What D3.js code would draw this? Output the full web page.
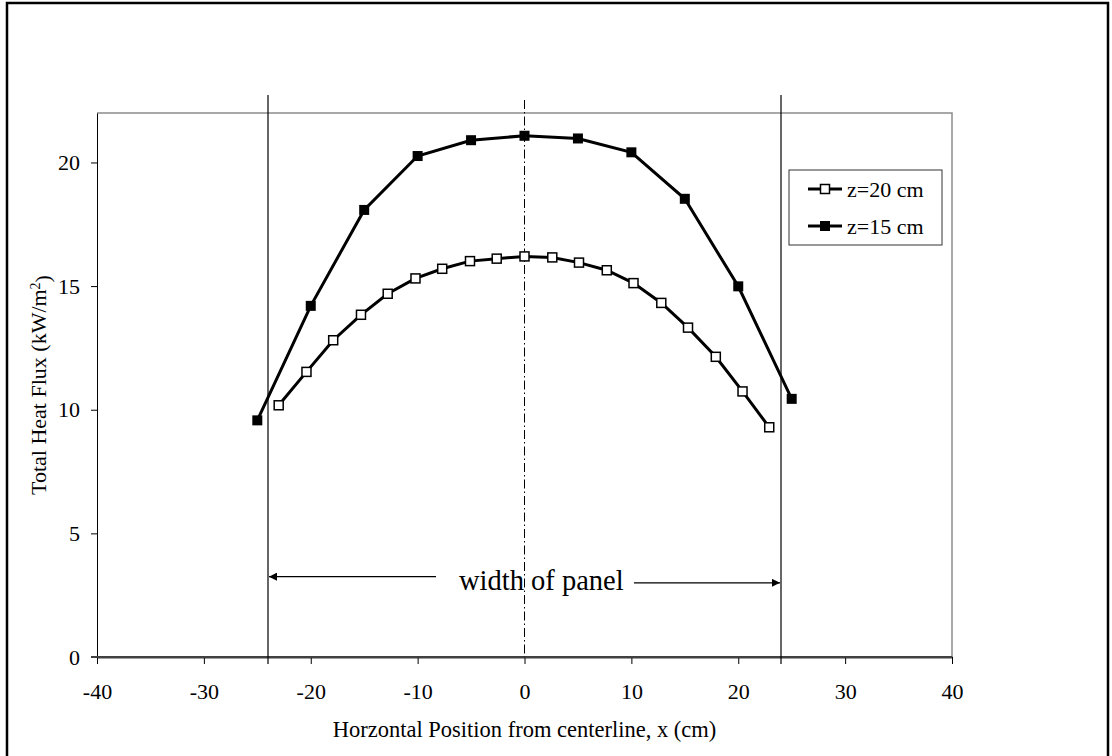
<!DOCTYPE html>
<html>
<head>
<meta charset="utf-8">
<script src="https://cdn.jsdelivr.net/npm/d3@7"></script>
<style>
  html, body { margin: 0; padding: 0; background: #fff; }
  svg { display: block; }
  text { font-family: "Liberation Serif", "Times New Roman", serif; fill: #000; }
</style>
</head>
<body>
<svg id="chart" width="1112" height="756"></svg>
<script>
// ---- data ----
const xTicks = [-40, -30, -20, -10, 0, 10, 20, 30, 40];
const yTicks = [0, 5, 10, 15, 20];
const seriesNames = ["z=20 cm", "z=15 cm"];
const z20x = [-23, -20.4, -17.9, -15.3, -12.8, -10.2, -7.7, -5.1, -2.6, 0, 2.6, 5.1, 7.7, 10.2, 12.8, 15.3, 17.9, 20.4, 22.9];
const z20y = [10.18, 11.53, 12.81, 13.84, 14.69, 15.31, 15.70, 16.01, 16.11, 16.20, 16.16, 15.95, 15.64, 15.12, 14.32, 13.32, 12.14, 10.74, 9.29];
const z15x = [-25, -20, -15, -10, -5, 0, 5, 10, 15, 20, 25];
const z15y = [9.57, 14.2, 18.08, 20.26, 20.9, 21.08, 20.97, 20.41, 18.53, 14.99, 10.44];
const panelEdges = [-24, 24];
const centerline = 0;
const xTitle = "Horzontal Position from centerline, x (cm)";
const annotation = "width of panel";

// ---- layout ----
const svg = d3.select("#chart");
const pL = 97, pR = 952, pT = 113, pB = 657;
const x = d3.scaleLinear().domain([-40, 40]).range([pL, pR]);
const y = d3.scaleLinear().domain([0, 22]).range([pB, pT]);
const fmt = d => String(d);

// outer frame
svg.append("rect").attr("x", 7).attr("y", 3).attr("width", 1101).attr("height", 770)
  .attr("fill", "none").attr("stroke", "#000").attr("stroke-width", 2.5);

// plot area frame (top/right gray)
svg.append("path")
  .attr("d", `M${pL},${pT}H${pR}V${pB}`)
  .attr("fill", "none").attr("stroke", "#8c8c8c").attr("stroke-width", 1.5);

// axes
const xAxis = d3.axisBottom(x).tickValues(xTicks).tickSize(7).tickSizeOuter(0).tickPadding(19)
  .tickFormat(fmt);
const gx = svg.append("g").attr("transform", `translate(0,${pB})`).call(xAxis);
gx.select(".domain").attr("stroke", "#404040").attr("stroke-width", 2);
gx.selectAll(".tick line").attr("stroke", "#000").attr("stroke-width", 1);
gx.selectAll("text").style("font-size", "22px").attr("font-family", "Liberation Serif");

const yAxis = d3.axisLeft(y).tickValues(yTicks).tickSize(6).tickSizeOuter(0).tickPadding(11)
  .tickFormat(fmt);
const gy = svg.append("g").attr("transform", `translate(${pL},0)`).call(yAxis);
gy.select(".domain").attr("stroke", "#000").attr("stroke-width", 1);
gy.selectAll(".tick line").attr("stroke", "#000");
gy.selectAll("text").style("font-size", "22px").attr("font-family", "Liberation Serif");
svg.append("line").attr("x1", pL - 6).attr("x2", pR).attr("y1", pB).attr("y2", pB)
  .attr("stroke", "#404040").attr("stroke-width", 2);

// panel edge lines
svg.selectAll(".edge").data(panelEdges).join("line")
  .attr("x1", d => x(d)).attr("x2", d => x(d))
  .attr("y1", 95).attr("y2", pB + 7)
  .attr("stroke", "#000").attr("stroke-width", 1.2);

// centerline dash-dot
svg.append("line").attr("x1", x(centerline)).attr("x2", x(centerline))
  .attr("y1", 100).attr("y2", pB)
  .attr("stroke", "#000").attr("stroke-width", 1)
  .attr("stroke-dasharray", "9,3,1.5,3");

// arrows
const defs = svg.append("defs");
defs.append("marker").attr("id", "ah").attr("viewBox", "0 0 10 10")
  .attr("refX", 10).attr("refY", 5).attr("markerWidth", 11).attr("markerHeight", 8)
  .attr("markerUnits", "userSpaceOnUse").attr("orient", "auto")
  .append("path").attr("d", "M0,0L10,5L0,10Z").attr("fill", "#000");

svg.append("line").attr("x1", 436).attr("x2", x(panelEdges[0]) + 1)
  .attr("y1", y(3.25)).attr("y2", y(3.25))
  .attr("stroke", "#000").attr("stroke-width", 1.2).attr("marker-end", "url(#ah)");
svg.append("line").attr("x1", 634).attr("x2", x(panelEdges[1]) - 1)
  .attr("y1", y(3.0)).attr("y2", y(3.0))
  .attr("stroke", "#000").attr("stroke-width", 1.2).attr("marker-end", "url(#ah)");
svg.append("text").attr("x", 459).attr("y", 590)
  .style("font-size", "28.5px").text(annotation);

// series
const line = d3.line().x(d => x(d[0])).y(d => y(d[1]));
const d20 = z20x.map((v, i) => [v, z20y[i]]);
const d15 = z15x.map((v, i) => [v, z15y[i]]);

svg.append("path").datum(d15).attr("d", line).attr("fill", "none")
  .attr("stroke", "#000").attr("stroke-width", 3);
svg.append("path").datum(d20).attr("d", line).attr("fill", "none")
  .attr("stroke", "#000").attr("stroke-width", 3);

svg.selectAll(".m15").data(d15).join("rect")
  .attr("x", d => x(d[0]) - 5).attr("y", d => y(d[1]) - 5)
  .attr("width", 10).attr("height", 10).attr("fill", "#000");
svg.selectAll(".m20").data(d20).join("rect")
  .attr("x", d => x(d[0]) - 4.5).attr("y", d => y(d[1]) - 4.5)
  .attr("width", 9).attr("height", 9).attr("fill", "#fff")
  .attr("stroke", "#000").attr("stroke-width", 1.5);

// legend
const lg = svg.append("g");
lg.append("rect").attr("x", 789).attr("y", 170).attr("width", 153).attr("height", 75)
  .attr("fill", "#fff").attr("stroke", "#333").attr("stroke-width", 1);
seriesNames.forEach((name, i) => {
  const yy = 189 + i * 37;
  lg.append("line").attr("x1", 808).attr("x2", 842).attr("y1", yy).attr("y2", yy)
    .attr("stroke", "#000").attr("stroke-width", 3);
  if (i === 0) {
    lg.append("rect").attr("x", 820.5).attr("y", yy - 4.5).attr("width", 9).attr("height", 9)
      .attr("fill", "#fff").attr("stroke", "#000").attr("stroke-width", 1.5);
  } else {
    lg.append("rect").attr("x", 820).attr("y", yy - 5).attr("width", 10).attr("height", 10)
      .attr("fill", "#000");
  }
  lg.append("text").attr("x", 847).attr("y", yy).attr("dy", "0.35em")
    .style("font-size", "22px").text(name);
});

// axis titles
svg.append("text").attr("x", x(0)).attr("y", 737).attr("text-anchor", "middle")
  .style("font-size", "22.5px").text(xTitle);
const yt = svg.append("text").attr("transform", `translate(46,${385}) rotate(-90)`)
  .attr("text-anchor", "middle").style("font-size", "22px");
yt.append("tspan").text("Total Heat Flux (kW/m");
yt.append("tspan").attr("dy", "-0.45em").style("font-size", "14px").text("2");
yt.append("tspan").attr("dy", "0.45em").text(")");
</script>
</body>
</html>
